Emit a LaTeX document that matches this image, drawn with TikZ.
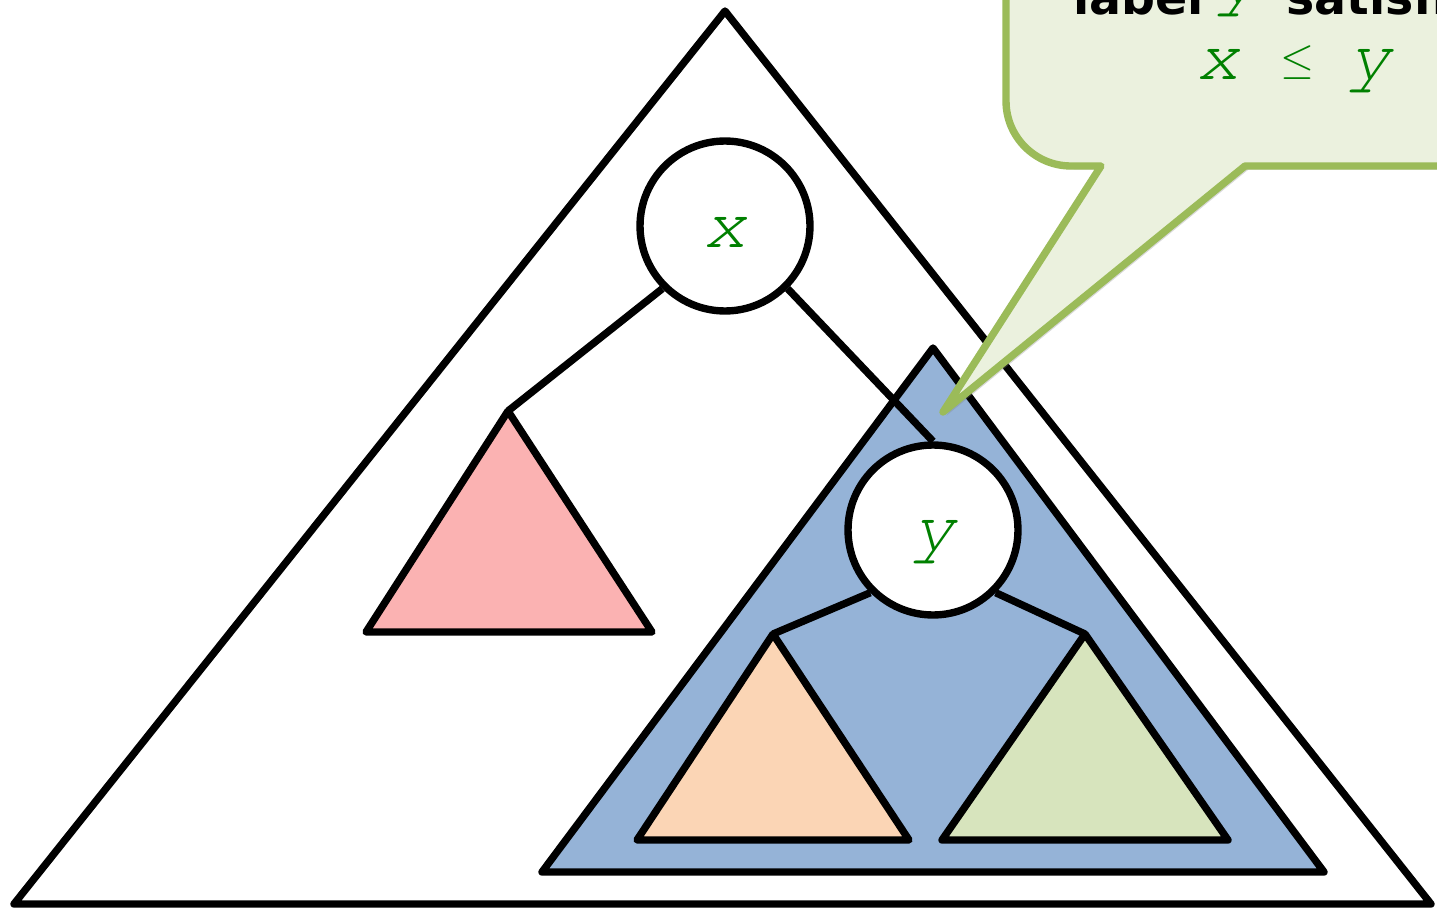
\documentclass[tikz,border=0pt]{standalone}
\usepackage{fontspec}
\newfontfamily\dejavu{DejaVu Sans}
\newcommand\courit{\fontencoding{T1}\fontfamily{pcr}\fontseries{m}\fontshape{it}}
\usetikzlibrary{shadows}
\definecolor{lblgreen}{RGB}{0,128,0}
\definecolor{redfill}{RGB}{251,178,178}
\definecolor{bluefill}{RGB}{149,179,215}
\definecolor{orfill}{RGB}{251,213,181}
\definecolor{grfill}{RGB}{215,228,189}
\definecolor{callfill}{RGB}{235,241,222}
\definecolor{calldraw}{RGB}{155,187,89}
\begin{document}
\begin{tikzpicture}[x=0.02cm,y=-0.02cm,line join=round,
  tri/.style={draw=black,line width=4.2pt},
  nodecirc/.style={circle,draw=black,fill=white,line width=4.2pt,minimum size=3.4cm,inner sep=0pt},
  lbl/.style={text=lblgreen,font=\courit\fontsize{41}{41}\selectfont,inner sep=0pt,anchor=base},
  blk/.style={text=black,font=\dejavu\bfseries\fontsize{27}{27}\selectfont,inner sep=0pt,anchor=base west},
  edgeline/.style={draw=black,line width=4.2pt},
  callout/.style={draw=calldraw,fill=callfill,line width=4.2pt,
    drop shadow={opacity=0.3,shadow xshift=2pt,shadow yshift=-2pt}}]
\useasboundingbox (0,0) rectangle (1437,909);
\clip (0,0) rectangle (1437,909);
% coordinates
\coordinate (bigT) at (725,11);
\coordinate (bigL) at (14,904);
\coordinate (bigR) at (1431,904);
\coordinate (redT) at (508,411);
\coordinate (redL) at (366,632);
\coordinate (redR) at (652,632);
\coordinate (bluT) at (933,348);
\coordinate (bluL) at (542,872);
\coordinate (bluR) at (1324,872);
\coordinate (orT) at (773,634);
\coordinate (orL) at (637,840);
\coordinate (orR) at (909,840);
\coordinate (grT) at (1085,634);
\coordinate (grL) at (942,840);
\coordinate (grR) at (1228,840);
% triangles
\draw[tri,fill=white] (bigT) -- (bigL) -- (bigR) -- cycle;
\draw[tri,fill=redfill] (redT) -- (redL) -- (redR) -- cycle;
\draw[tri,fill=bluefill] (bluT) -- (bluL) -- (bluR) -- cycle;
\draw[tri,fill=orfill] (orT) -- (orL) -- (orR) -- cycle;
\draw[tri,fill=grfill] (grT) -- (grL) -- (grR) -- cycle;
% circles
\node[nodecirc] (x) at (725,226) {};
\node[nodecirc] (y) at (933,530) {};
\node[lbl] (xl) at (725,247) {x};
\node[lbl] (yl) at (934,550) {y};
% edges
\draw[edgeline] (x.south west) -- (redT);
\draw[edgeline] (x.-45) -- (y.north);
\draw[edgeline] (y.south west) -- (orT);
\draw[edgeline] (y.south east) -- (grT);
% callout
\coordinate (tip) at (943,412);
\draw[callout] (1500,166) -- (1245,166) -- (tip) -- (1101,166) -- (1071,166)
  arc[start angle=270,end angle=180,radius=1.3cm] -- (1006,-60) -- (1500,-60) -- cycle;
\node[blk] (w1) at (1073,15) {label};
\node[lbl] (w2) at (1238,4) {y};
\node[blk] (w3) at (1286,15) {satisfies};
\node[lbl] (cx) at (1218,80) {x};
\node[text=lblgreen,inner sep=0pt,anchor=base,font=\fontsize{27}{27}\selectfont] (cle) at (1297,74) {$\leq$};
\node[lbl] (cy) at (1370,80) {y};
\end{tikzpicture}
\end{document}
